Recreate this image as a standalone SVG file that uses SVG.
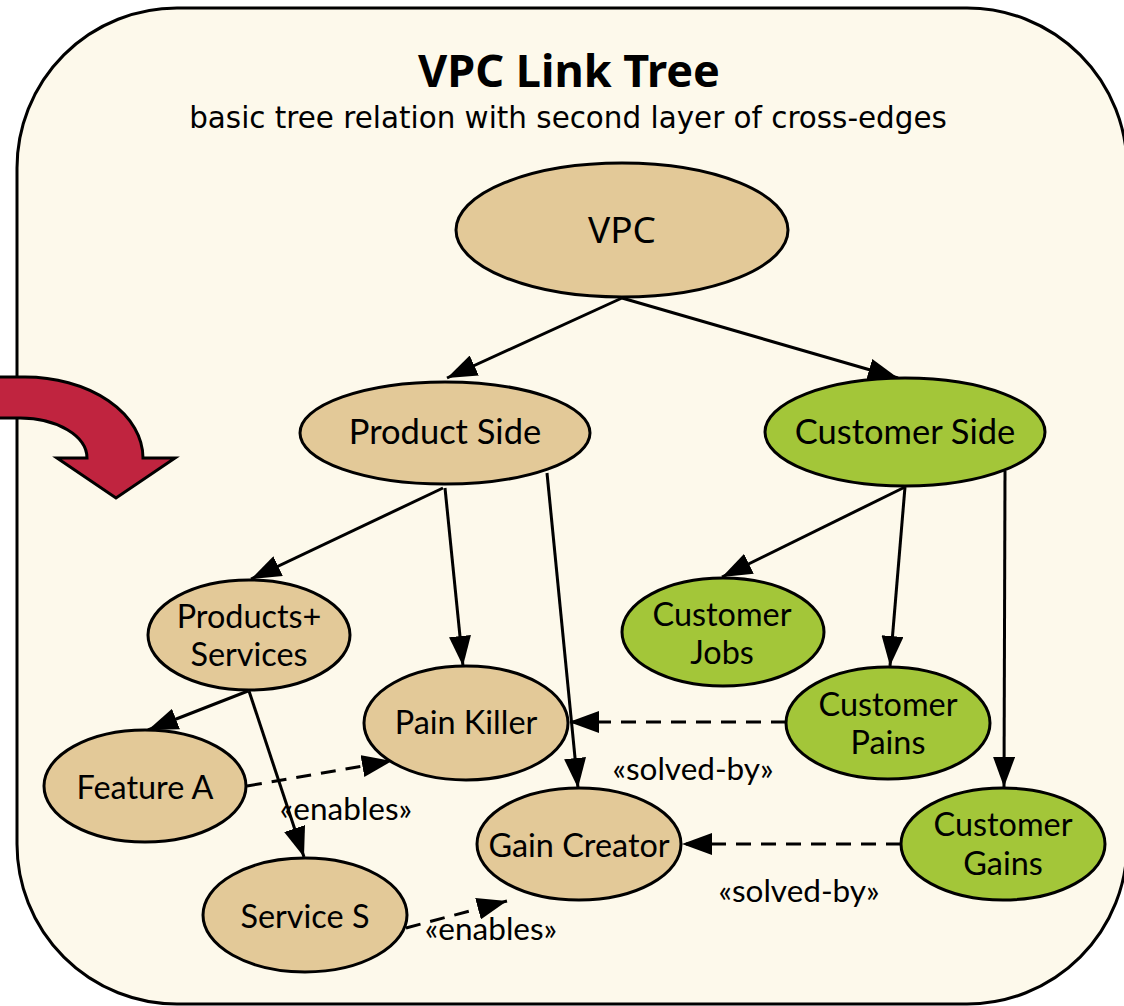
<svg xmlns="http://www.w3.org/2000/svg" width="1124" height="1006" viewBox="0 0 1124 1006">
<defs>
<style>
.tan{fill:#E3C998;stroke:#000;stroke-width:3}
.grn{fill:#A3C639;stroke:#000;stroke-width:3}
.lbl{font-family:Lato,"Liberation Sans",sans-serif;fill:#000;text-anchor:middle}
.l1{font-size:34.5px}
.l2{font-size:32.4px}
.el{font-family:Lato,"Liberation Sans",sans-serif;font-size:31.5px;fill:#000;text-anchor:middle}
.e{fill:none;stroke:#000;stroke-width:3;marker-end:url(#ah)}
.d{stroke-dasharray:15 10}
</style>
<marker id="ah" markerUnits="userSpaceOnUse" markerWidth="30" markerHeight="22" refX="30" refY="11" orient="auto">
<path d="M0,0 L30,11 L0,22 z" fill="#000"/>
</marker>
</defs>
<rect width="1124" height="1006" fill="#fff"/>
<rect x="17" y="8" width="1110" height="996" rx="160" ry="160" fill="#FDF9EB" stroke="#000" stroke-width="3"/>
<path d="M-30,377 L25,377 A118,81 0 0 1 143,458 L175,458 L116,498 L57,458 L87,458 A67,40 0 0 0 20,418 L-30,418 Z" fill="#C0243F" stroke="#000" stroke-width="3" stroke-linejoin="miter"/>
<text x="569" y="87" font-family="'Noto Sans','Open Sans',sans-serif" font-weight="bold" font-size="45" text-anchor="middle">VPC Link Tree</text>
<text x="568" y="128" font-family="'DejaVu Sans',sans-serif" font-size="29.4" text-anchor="middle">basic tree relation with second layer of cross-edges</text>
<g id="connectors">
<path class="e" d="M622,298 L447,378"/>
<path class="e" d="M622,298 L898,378"/>
<path class="e" d="M443,488 L251,579"/>
<path class="e" d="M445,488 L463,666"/>
<path class="e" d="M547,473 L578,788"/>
<path class="e" d="M905,487 L722,577"/>
<path class="e" d="M905,487 L890,666"/>
<path class="e" d="M1005,471 L1004,787"/>
<path class="e" d="M248,691 L148,730"/>
<path class="e" d="M249,691 L304,857"/>
<path class="e d" d="M247,786 L392,761"/>
<path class="e d" d="M786,722 L569,722"/>
<path class="e d" d="M901,844 L682,844"/>
<path class="e d" d="M406,928 L507,901"/>
<text class="el" x="346" y="820">«enables»</text>
<text class="el" x="693" y="780">«solved-by»</text>
<text class="el" x="799" y="902">«solved-by»</text>
<text class="el" x="491" y="940">«enables»</text>
</g>
<g id="vpc"><ellipse class="tan" cx="622" cy="230" rx="166" ry="67"/><text x="622" y="243" font-family="'Noto Sans','Open Sans',sans-serif" font-size="37" text-anchor="middle">VPC</text></g>
<g id="product-side"><ellipse class="tan" cx="445" cy="433" rx="145" ry="51"/><text class="lbl l1" x="445" y="444">Product Side</text></g>
<g id="customer-side"><ellipse class="grn" cx="905" cy="432" rx="140" ry="54"/><text class="lbl l1" x="905" y="444">Customer Side</text></g>
<g id="products-services"><ellipse class="tan" cx="249" cy="635" rx="101" ry="55"/><text class="lbl l2" x="249" y="628">Products+</text><text class="lbl l2" x="249" y="666">Services</text></g>
<g id="customer-jobs"><ellipse class="grn" cx="723" cy="632" rx="101" ry="54"/><text class="lbl l2" x="722" y="626">Customer</text><text class="lbl l2" x="722" y="664">Jobs</text></g>
<g id="pain-killer"><ellipse class="tan" cx="466" cy="723" rx="102" ry="57"/><text class="lbl l2" x="466" y="734">Pain Killer</text></g>
<g id="customer-pains"><ellipse class="grn" cx="888" cy="723" rx="102" ry="56"/><text class="lbl l2" x="888" y="716">Customer</text><text class="lbl l2" x="888" y="754">Pains</text></g>
<g id="feature-a"><ellipse class="tan" cx="145" cy="786" rx="101" ry="56"/><text class="lbl l2" x="145" y="799">Feature A</text></g>
<g id="gain-creator"><ellipse class="tan" cx="579" cy="844" rx="102" ry="56"/><text class="lbl l2" x="579" y="857">Gain Creator</text></g>
<g id="customer-gains"><ellipse class="grn" cx="1003" cy="844" rx="102" ry="56"/><text class="lbl l2" x="1003" y="836">Customer</text><text class="lbl l2" x="1003" y="875">Gains</text></g>
<g id="service-s"><ellipse class="tan" cx="305" cy="915" rx="102" ry="57"/><text class="lbl l2" x="305" y="928">Service S</text></g>
</svg>
